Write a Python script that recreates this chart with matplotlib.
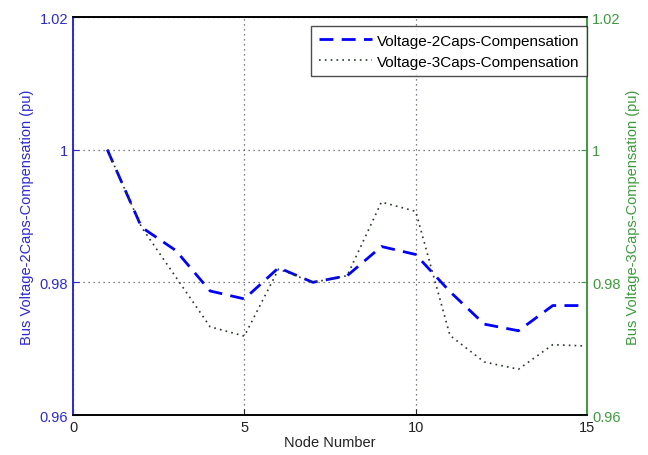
import matplotlib
matplotlib.use("Agg")
import matplotlib.pyplot as plt

plt.rcParams["font.family"] = ["Liberation Sans", "DejaVu Sans"]

nodes = list(range(1, 16))
v_2caps = [1.0, 0.9883, 0.9848, 0.9787, 0.9775, 0.9822, 0.9800, 0.9810,
           0.9854, 0.9842, 0.9786, 0.9737, 0.9727, 0.9765, 0.9765]
v_3caps = [1.0, 0.9883, 0.9808, 0.9733, 0.9719, 0.9820, 0.9800, 0.9810,
           0.9921, 0.9907, 0.9720, 0.9680, 0.9669, 0.9706, 0.9704]

BLUE = "#2b2bcc"
GREEN = "#3d9a3d"

fig = plt.figure(figsize=(6.48, 4.56), dpi=100)
ax = fig.add_axes([0.1127, 0.0877, 0.7932, 0.8728])
ax2 = ax.twinx()

l1, = ax.plot(nodes, v_2caps, color="#0000ff", ls=(0, (5, 3)), lw=2,
              label="Voltage-2Caps-Compensation")
l2, = ax2.plot(nodes, v_3caps, color="#263826", ls=(0, (1, 2.5)), lw=1.2,
               label="Voltage-3Caps-Compensation")

for a in (ax, ax2):
    a.set_xlim(0, 15)
    a.set_ylim(0.96, 1.02)
    a.set_yticks([0.96, 0.98, 1.0, 1.02])
    a.set_yticklabels(["0.96", "0.98", "1", "1.02"])
    a.tick_params(direction="in", labelsize=10.5, length=4)

ax.set_xticks([0, 5, 10, 15])
ax.grid(True, ls=(0, (1, 3)), color="#555566", lw=0.9)
ax.set_axisbelow(True)

ax.tick_params(axis="y", colors=BLUE)
ax.tick_params(axis="x", colors="#222222", labelcolor="#222222")
ax2.tick_params(axis="y", colors=GREEN)
ax.spines["left"].set_color(BLUE)
ax2.spines["left"].set_color(BLUE)
ax2.spines["right"].set_color(GREEN)
ax.spines["right"].set_color(GREEN)
for a in (ax, ax2):
    for s in a.spines.values():
        s.set_linewidth(1.2)

ax.set_xlabel("Node Number", fontsize=10.5, color="#222222", labelpad=1)
ax.set_ylabel("Bus Voltage-2Caps-Compensation (pu)", fontsize=10.5, color=BLUE)
ax2.set_ylabel("Bus Voltage-3Caps-Compensation (pu)", fontsize=10.5, color=GREEN)

leg = ax2.legend(handles=[l1, l2], loc="upper right",
                 bbox_to_anchor=(1.0, 0.977), fontsize=11,
                 frameon=True, fancybox=False, borderpad=0.5,
                 handlelength=3.5, handletextpad=0.3, labelspacing=0.45,
                 borderaxespad=0.0)
leg.get_frame().set_edgecolor("#222222")
leg.get_frame().set_linewidth(1.0)

fig.savefig("out.png", dpi=100)
